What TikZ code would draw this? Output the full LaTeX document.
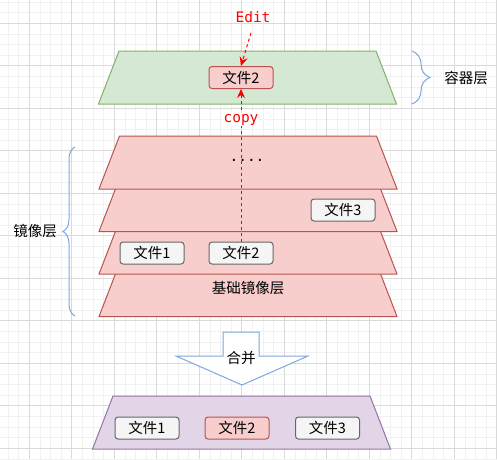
\documentclass[tikz,border=0pt]{standalone}
\usepackage{fontspec}
\setmainfont{Noto Sans CJK SC}
\newfontfamily\codefont{DejaVu Sans Mono}
\usepackage{tikz}
\usetikzlibrary{arrows.meta,decorations.pathreplacing,positioning}

\definecolor{gridminor}{HTML}{F1F1F1}
\definecolor{gridmajor}{HTML}{DADADA}
\definecolor{greenfill}{HTML}{D5E8D4}
\definecolor{greenline}{HTML}{82B366}
\definecolor{redfill}{HTML}{F8CECC}
\definecolor{redline}{HTML}{B85450}
\definecolor{filefill}{HTML}{F5F5F5}
\definecolor{fileline}{HTML}{666666}
\definecolor{purplefill}{HTML}{E1D5E7}
\definecolor{purpleline}{HTML}{9673A6}
\definecolor{braceblue}{HTML}{7EA6E0}

\begin{document}
\begin{tikzpicture}[
    x=1pt, y=-1pt,
    layer/.pic={\draw[pic actions, line width=1pt] (-128.5,-26.5) -- (128.5,-26.5) -- (149,26.5) -- (-149,26.5) -- cycle;},
    file/.style={rectangle, rounded corners=3pt, draw=fileline, fill=filefill, line width=1pt, minimum width=64pt, minimum height=22pt, inner sep=0pt, font=\fontsize{14.5}{17}\selectfont},
    edited/.style={file, draw=redline, fill=redfill},
    code/.style={text=red, font=\codefont\fontsize{14.5}{17}\selectfont},
    flow/.style={-{Stealth[length=9pt,width=8pt]}, red, line width=1pt, dash pattern=on 3pt off 3pt},
    curly/.style={draw=braceblue, line width=1pt, decorate, decoration={brace, amplitude=#1}},
    label/.style={font=\fontsize{14.5}{17}\selectfont}
]
\useasboundingbox (0,0) rectangle (497,459);

% grid
\foreach \i in {-3,...,44} {
    \draw[gridminor, line width=0.8pt] (29.3+\i*10.625,0) -- (29.3+\i*10.625,459);
    \draw[gridminor, line width=0.8pt] (0,23.3+\i*10.625) -- (497,23.3+\i*10.625);
}
\foreach \j in {0,...,11} {
    \draw[gridmajor, line width=0.8pt] (29.3+\j*42.5,0) -- (29.3+\j*42.5,459);
    \draw[gridmajor, line width=0.8pt] (0,23.3+\j*42.5) -- (497,23.3+\j*42.5);
}

% container layer
\pic[fill=greenfill, draw=greenline] (container) at (247.5,77.5) {layer};
\node[edited] (c2) at (241,77.5) {文件2};
\node[code] (edit) at (253,17) {Edit};

% image layers, bottom first
\pic[fill=redfill, draw=redline] (base) at (248,290) {layer};
\node[label] (basetext) at (248,288) {基础镜像层};
\pic[fill=redfill, draw=redline] (layerc) at (248,247.5) {layer};
\node[file] (lc1) at (152,253) {文件1};
\node[file] (lc2) at (241,253) {文件2};
\pic[fill=redfill, draw=redline] (layerb) at (248,205) {layer};
\node[file] (lb3) at (343,210) {文件3};
\pic[fill=redfill, draw=redline] (layera) at (248,162.5) {layer};
\node[label] (dots) at (247,160) {\codefont ....};

\draw[flow] (lc2.north) -- node[pos=0.8, fill=white, code, inner sep=1pt] (copy) {copy} (c2.south);
\draw[flow, shorten <=7pt] (edit.south) -- (c2.north);

% braces
\coordinate (imgbot) at (75,316);
\coordinate (imgtop) at (75,147);
\draw[curly=12pt] (imgbot) -- (imgtop);
\node[label] (imglabel) at (35,231) {镜像层};
\coordinate (ctop) at (412,51);
\coordinate (cbot) at (412,104);
\draw[curly=18pt] (ctop) -- (cbot);
\node[label] (clabel) at (466,78) {容器层};

% merge
\draw[braceblue, fill=white, line width=1pt] (223,332) -- (259,332) -- (259,356) -- (308,356) -- (242,385) -- (176,356) -- (223,356) -- cycle;
\node[label] (merge) at (241,358) {合并};

% merged view
\pic[fill=purplefill, draw=purpleline] (merged) at (241.5,422.5) {layer};
\node[file] (m1) at (147,428) {文件1};
\node[edited] (m2) at (237,428) {文件2};
\node[file] (m3) at (327.5,428) {文件3};
\end{tikzpicture}
\end{document}
